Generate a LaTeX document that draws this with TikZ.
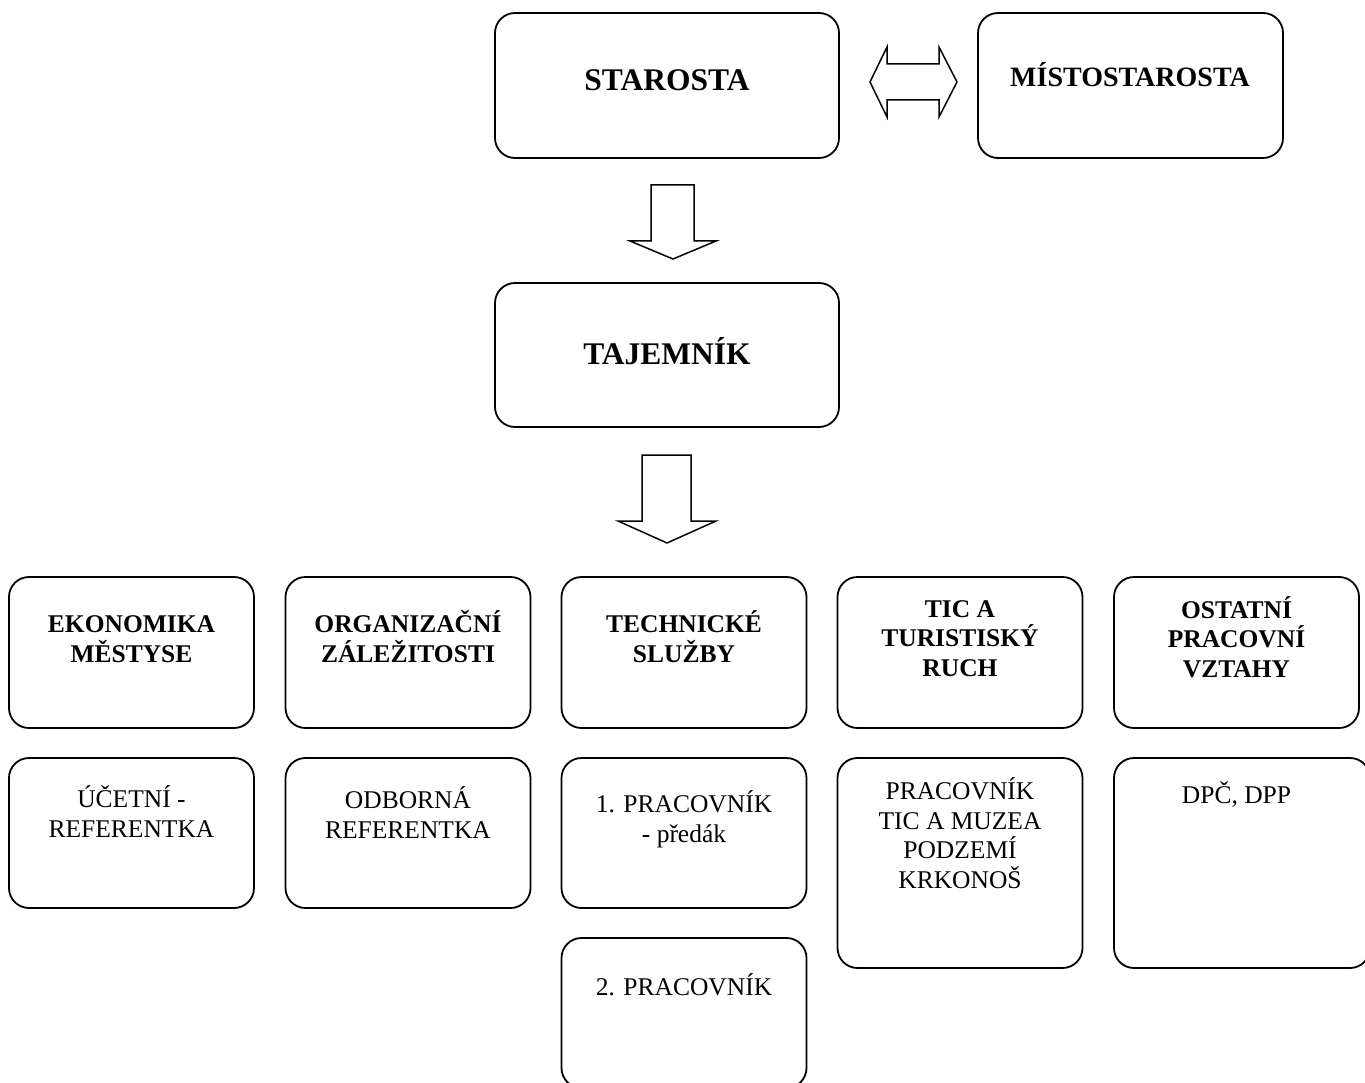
\documentclass[tikz,border=0pt]{standalone}
\usepackage{fontspec}
\setmainfont{Liberation Serif}
\usetikzlibrary{calc}

\tikzset{
  box/.style={draw, line width=1.8pt, rounded corners=20pt, minimum width=245pt, minimum height=151pt, inner sep=0pt},
  head/.style={font=\fontsize{25.5}{29.5}\selectfont\bfseries, align=center, anchor=base, inner sep=0pt},
  sub/.style={font=\fontsize{25.5}{29.5}\selectfont, align=center, anchor=base, inner sep=0pt},
  blk/.style={draw, line width=1.5pt, line join=miter},
}

\begin{document}
\begin{tikzpicture}[x=1pt,y=-1pt]
\useasboundingbox (0,0) rectangle (1365,1083);

% top level
\node[box, minimum width=344pt, minimum height=145pt] (starosta) at (667,85.5) {};
\node[head, font=\fontsize{31.5}{36}\selectfont\bfseries] (t-starosta) at (667,91) {STAROSTA};
\node[box, minimum width=305pt, minimum height=145pt] (mistostarosta) at (1130.5,85.5) {};
\node[head, font=\fontsize{28}{32}\selectfont\bfseries] (t-mistostarosta) at (1130,87) {MÍSTOSTAROSTA};
\node[box, minimum width=344pt, minimum height=144pt] (tajemnik) at (667,355) {};
\node[head, font=\fontsize{31.5}{36}\selectfont\bfseries] (t-tajemnik) at (667,364) {TAJEMNÍK};

% block arrows
\draw[blk] (870,82) -- (887,47) -- (887,64) -- (939,64) -- (939,47) -- (957,82)
  -- (939,117) -- (939,100) -- (887,100) -- (887,117) -- cycle;
\draw[blk] (651,185) -- (694,185) -- (694,241) -- (716,241) -- (673,259)
  -- (630,241) -- (651,241) -- cycle;
\draw[blk] (642,455) -- (691,455) -- (691,521) -- (716,521) -- (667,543)
  -- (618,521) -- (642,521) -- cycle;

% departments (base = last line)
\node[box] (ekonomika) at (131.5,652.5) {};
\node[head] (t-ekonomika) at (131.5,662) {EKONOMIKA\\MĚSTYSE};
\node[box] (organizace) at (408,652.5) {};
\node[head] (t-organizace) at (408,662) {ORGANIZAČNÍ\\ZÁLEŽITOSTI};
\node[box] (technicke) at (684,652.5) {};
\node[head] (t-technicke) at (684,662) {TECHNICKÉ\\SLUŽBY};
\node[box] (tic) at (960,652.5) {};
\node[head] (t-tic) at (960,676) {TIC A\\TURISTISKÝ\\RUCH};
\node[box] (ostatni) at (1236.5,652.5) {};
\node[head] (t-ostatni) at (1236.5,677) {OSTATNÍ\\PRACOVNÍ\\VZTAHY};

% staff
\node[box, minimum height=150pt] (ucetni) at (131.5,833) {};
\node[sub] (t-ucetni) at (131.5,837) {ÚČETNÍ -\\REFERENTKA};
\node[box, minimum height=150pt] (odborna) at (408,833) {};
\node[sub] (t-odborna) at (408,838) {ODBORNÁ\\REFERENTKA};
\node[box, minimum height=150pt] (pracovnik1) at (684,833) {};
\node[sub] (t-pracovnik1) at (684,842) {1. PRACOVNÍK\\- předák};
\node[box, minimum height=150pt] (pracovnik2) at (684,1013) {};
\node[sub] (t-pracovnik2) at (684,995) {2. PRACOVNÍK};
\node[box, minimum height=210pt] (pracovnik-tic) at (960,863) {};
\node[sub] (t-pracovnik-tic) at (960,888) {PRACOVNÍK\\TIC A MUZEA\\PODZEMÍ\\KRKONOŠ};
\node[box, minimum width=256pt, minimum height=210pt] (dpc) at (1242,863) {};
\node[sub] (t-dpc) at (1236.5,803) {DPČ, DPP};

\end{tikzpicture}
\end{document}
